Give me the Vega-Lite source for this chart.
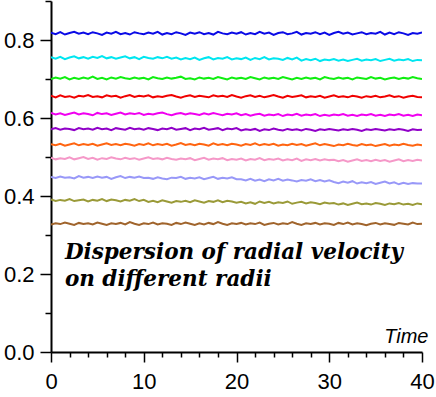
{
  "$schema": "https://vega.github.io/schema/vega-lite/v6.json",
  "autosize": "none",
  "width": 371,
  "height": 351,
  "padding": {"left": 51, "top": 1, "right": 14, "bottom": 45},
  "background": "white",
  "config": {"view": {"stroke": null}, "axis": {"labelOverlap": false, "labelBound": false}},
  "data": {"values": [
{"t":0,"a":0.819,"b":0.756,"c":0.700,"d":0.657,"e":0.613,"f":0.571,"g":0.533,"h":0.498,"i":0.449,"j":0.391,"k":0.327},
{"t":0.5,"a":0.815,"b":0.752,"c":0.704,"d":0.653,"e":0.609,"f":0.574,"g":0.530,"h":0.494,"i":0.446,"j":0.387,"k":0.330},
{"t":1,"a":0.820,"b":0.757,"c":0.701,"d":0.658,"e":0.612,"f":0.570,"g":0.534,"h":0.497,"i":0.450,"j":0.390,"k":0.328},
{"t":1.5,"a":0.814,"b":0.751,"c":0.705,"d":0.654,"e":0.608,"f":0.573,"g":0.529,"h":0.495,"i":0.447,"j":0.388,"k":0.332},
{"t":2,"a":0.818,"b":0.755,"c":0.699,"d":0.656,"e":0.611,"f":0.572,"g":0.532,"h":0.499,"i":0.448,"j":0.392,"k":0.329},
{"t":2.5,"a":0.821,"b":0.758,"c":0.703,"d":0.652,"e":0.614,"f":0.569,"g":0.535,"h":0.494,"i":0.445,"j":0.387,"k":0.326},
{"t":3,"a":0.816,"b":0.753,"c":0.700,"d":0.657,"e":0.609,"f":0.574,"g":0.530,"h":0.497,"i":0.451,"j":0.389,"k":0.331},
{"t":3.5,"a":0.819,"b":0.756,"c":0.704,"d":0.655,"e":0.612,"f":0.571,"g":0.533,"h":0.500,"i":0.447,"j":0.391,"k":0.328},
{"t":4,"a":0.815,"b":0.752,"c":0.701,"d":0.659,"e":0.610,"f":0.573,"g":0.531,"h":0.495,"i":0.449,"j":0.386,"k":0.330},
{"t":4.5,"a":0.820,"b":0.757,"c":0.706,"d":0.654,"e":0.607,"f":0.570,"g":0.534,"h":0.498,"i":0.446,"j":0.390,"k":0.327},
{"t":5,"a":0.817,"b":0.754,"c":0.700,"d":0.656,"e":0.613,"f":0.575,"g":0.529,"h":0.493,"i":0.450,"j":0.388,"k":0.332},
{"t":5.5,"a":0.813,"b":0.759,"c":0.703,"d":0.653,"e":0.610,"f":0.571,"g":0.532,"h":0.497,"i":0.447,"j":0.392,"k":0.329},
{"t":6,"a":0.819,"b":0.753,"c":0.699,"d":0.658,"e":0.612,"f":0.573,"g":0.535,"h":0.495,"i":0.449,"j":0.387,"k":0.326},
{"t":6.5,"a":0.816,"b":0.756,"c":0.704,"d":0.655,"e":0.608,"f":0.569,"g":0.531,"h":0.499,"i":0.444,"j":0.391,"k":0.330},
{"t":7,"a":0.821,"b":0.752,"c":0.701,"d":0.657,"e":0.611,"f":0.574,"g":0.533,"h":0.496,"i":0.448,"j":0.389,"k":0.328},
{"t":7.5,"a":0.815,"b":0.755,"c":0.705,"d":0.652,"e":0.614,"f":0.572,"g":0.530,"h":0.494,"i":0.451,"j":0.386,"k":0.331},
{"t":8,"a":0.818,"b":0.758,"c":0.702,"d":0.656,"e":0.609,"f":0.570,"g":0.534,"h":0.498,"i":0.446,"j":0.390,"k":0.327},
{"t":8.5,"a":0.814,"b":0.753,"c":0.700,"d":0.659,"e":0.612,"f":0.575,"g":0.532,"h":0.495,"i":0.449,"j":0.388,"k":0.333},
{"t":9,"a":0.820,"b":0.756,"c":0.704,"d":0.654,"e":0.610,"f":0.571,"g":0.529,"h":0.497,"i":0.447,"j":0.392,"k":0.329},
{"t":9.5,"a":0.817,"b":0.751,"c":0.701,"d":0.657,"e":0.613,"f":0.573,"g":0.533,"h":0.493,"i":0.450,"j":0.387,"k":0.326},
{"t":10,"a":0.815,"b":0.757,"c":0.703,"d":0.655,"e":0.608,"f":0.570,"g":0.531,"h":0.496,"i":0.446,"j":0.390,"k":0.330},
{"t":10.5,"a":0.819,"b":0.754,"c":0.699,"d":0.658,"e":0.611,"f":0.574,"g":0.535,"h":0.499,"i":0.447,"j":0.385,"k":0.328},
{"t":11,"a":0.816,"b":0.752,"c":0.705,"d":0.653,"e":0.609,"f":0.572,"g":0.530,"h":0.495,"i":0.444,"j":0.388,"k":0.332},
{"t":11.5,"a":0.821,"b":0.756,"c":0.702,"d":0.656,"e":0.612,"f":0.569,"g":0.533,"h":0.497,"i":0.448,"j":0.384,"k":0.327},
{"t":12,"a":0.814,"b":0.753,"c":0.700,"d":0.654,"e":0.614,"f":0.573,"g":0.531,"h":0.494,"i":0.445,"j":0.389,"k":0.330},
{"t":12.5,"a":0.818,"b":0.757,"c":0.704,"d":0.657,"e":0.610,"f":0.571,"g":0.534,"h":0.498,"i":0.443,"j":0.386,"k":0.329},
{"t":13,"a":0.815,"b":0.752,"c":0.701,"d":0.659,"e":0.607,"f":0.575,"g":0.529,"h":0.495,"i":0.447,"j":0.383,"k":0.326},
{"t":13.5,"a":0.820,"b":0.755,"c":0.703,"d":0.655,"e":0.611,"f":0.570,"g":0.532,"h":0.493,"i":0.446,"j":0.387,"k":0.331},
{"t":14,"a":0.817,"b":0.750,"c":0.706,"d":0.652,"e":0.613,"f":0.572,"g":0.536,"h":0.496,"i":0.449,"j":0.385,"k":0.328},
{"t":14.5,"a":0.813,"b":0.754,"c":0.700,"d":0.656,"e":0.609,"f":0.574,"g":0.531,"h":0.494,"i":0.444,"j":0.388,"k":0.332},
{"t":15,"a":0.819,"b":0.751,"c":0.702,"d":0.658,"e":0.612,"f":0.569,"g":0.533,"h":0.497,"i":0.447,"j":0.384,"k":0.329},
{"t":15.5,"a":0.816,"b":0.755,"c":0.699,"d":0.654,"e":0.610,"f":0.573,"g":0.530,"h":0.492,"i":0.445,"j":0.389,"k":0.326},
{"t":16,"a":0.820,"b":0.749,"c":0.704,"d":0.657,"e":0.608,"f":0.571,"g":0.534,"h":0.495,"i":0.448,"j":0.386,"k":0.330},
{"t":16.5,"a":0.815,"b":0.753,"c":0.701,"d":0.655,"e":0.612,"f":0.575,"g":0.532,"h":0.498,"i":0.443,"j":0.383,"k":0.327},
{"t":17,"a":0.818,"b":0.756,"c":0.703,"d":0.653,"e":0.609,"f":0.570,"g":0.529,"h":0.493,"i":0.446,"j":0.387,"k":0.331},
{"t":17.5,"a":0.814,"b":0.750,"c":0.700,"d":0.658,"e":0.613,"f":0.572,"g":0.535,"h":0.496,"i":0.449,"j":0.385,"k":0.328},
{"t":18,"a":0.821,"b":0.754,"c":0.705,"d":0.655,"e":0.610,"f":0.574,"g":0.531,"h":0.494,"i":0.444,"j":0.389,"k":0.333},
{"t":18.5,"a":0.817,"b":0.752,"c":0.702,"d":0.657,"e":0.607,"f":0.569,"g":0.533,"h":0.497,"i":0.447,"j":0.384,"k":0.329},
{"t":19,"a":0.815,"b":0.756,"c":0.699,"d":0.654,"e":0.611,"f":0.573,"g":0.530,"h":0.492,"i":0.445,"j":0.388,"k":0.326},
{"t":19.5,"a":0.819,"b":0.750,"c":0.704,"d":0.659,"e":0.609,"f":0.571,"g":0.534,"h":0.495,"i":0.448,"j":0.386,"k":0.330},
{"t":20,"a":0.816,"b":0.753,"c":0.701,"d":0.655,"e":0.612,"f":0.574,"g":0.532,"h":0.493,"i":0.443,"j":0.383,"k":0.328},
{"t":20.5,"a":0.820,"b":0.751,"c":0.703,"d":0.652,"e":0.607,"f":0.568,"g":0.529,"h":0.496,"i":0.443,"j":0.385,"k":0.331},
{"t":21,"a":0.814,"b":0.755,"c":0.700,"d":0.656,"e":0.610,"f":0.571,"g":0.533,"h":0.491,"i":0.440,"j":0.381,"k":0.327},
{"t":21.5,"a":0.818,"b":0.749,"c":0.705,"d":0.658,"e":0.606,"f":0.569,"g":0.531,"h":0.495,"i":0.444,"j":0.384,"k":0.330},
{"t":22,"a":0.815,"b":0.754,"c":0.702,"d":0.654,"e":0.609,"f":0.572,"g":0.535,"h":0.493,"i":0.439,"j":0.380,"k":0.328},
{"t":22.5,"a":0.821,"b":0.751,"c":0.699,"d":0.657,"e":0.611,"f":0.567,"g":0.530,"h":0.497,"i":0.442,"j":0.386,"k":0.332},
{"t":23,"a":0.816,"b":0.756,"c":0.704,"d":0.653,"e":0.606,"f":0.571,"g":0.533,"h":0.492,"i":0.438,"j":0.382,"k":0.326},
{"t":23.5,"a":0.819,"b":0.750,"c":0.701,"d":0.656,"e":0.609,"f":0.569,"g":0.531,"h":0.495,"i":0.443,"j":0.385,"k":0.329},
{"t":24,"a":0.813,"b":0.753,"c":0.703,"d":0.659,"e":0.607,"f":0.573,"g":0.534,"h":0.493,"i":0.440,"j":0.381,"k":0.331},
{"t":24.5,"a":0.818,"b":0.752,"c":0.700,"d":0.655,"e":0.610,"f":0.570,"g":0.529,"h":0.496,"i":0.444,"j":0.384,"k":0.327},
{"t":25,"a":0.820,"b":0.749,"c":0.705,"d":0.652,"e":0.605,"f":0.568,"g":0.532,"h":0.491,"i":0.439,"j":0.382,"k":0.330},
{"t":25.5,"a":0.815,"b":0.754,"c":0.702,"d":0.657,"e":0.609,"f":0.572,"g":0.530,"h":0.494,"i":0.442,"j":0.386,"k":0.328},
{"t":26,"a":0.817,"b":0.750,"c":0.699,"d":0.654,"e":0.607,"f":0.569,"g":0.534,"h":0.492,"i":0.440,"j":0.380,"k":0.333},
{"t":26.5,"a":0.821,"b":0.755,"c":0.703,"d":0.656,"e":0.611,"f":0.571,"g":0.531,"h":0.496,"i":0.437,"j":0.383,"k":0.329},
{"t":27,"a":0.814,"b":0.747,"c":0.700,"d":0.658,"e":0.606,"f":0.568,"g":0.533,"h":0.490,"i":0.441,"j":0.385,"k":0.326},
{"t":27.5,"a":0.818,"b":0.751,"c":0.704,"d":0.653,"e":0.609,"f":0.572,"g":0.529,"h":0.494,"i":0.439,"j":0.381,"k":0.330},
{"t":28,"a":0.816,"b":0.748,"c":0.701,"d":0.656,"e":0.607,"f":0.570,"g":0.532,"h":0.492,"i":0.443,"j":0.384,"k":0.328},
{"t":28.5,"a":0.820,"b":0.752,"c":0.703,"d":0.654,"e":0.610,"f":0.567,"g":0.535,"h":0.495,"i":0.438,"j":0.382,"k":0.331},
{"t":29,"a":0.815,"b":0.746,"c":0.699,"d":0.657,"e":0.605,"f":0.571,"g":0.530,"h":0.491,"i":0.441,"j":0.379,"k":0.327},
{"t":29.5,"a":0.819,"b":0.750,"c":0.705,"d":0.652,"e":0.608,"f":0.569,"g":0.533,"h":0.494,"i":0.437,"j":0.383,"k":0.330},
{"t":30,"a":0.813,"b":0.748,"c":0.702,"d":0.655,"e":0.606,"f":0.572,"g":0.531,"h":0.492,"i":0.440,"j":0.381,"k":0.329},
{"t":30.5,"a":0.818,"b":0.751,"c":0.700,"d":0.658,"e":0.609,"f":0.570,"g":0.528,"h":0.493,"i":0.436,"j":0.382,"k":0.326},
{"t":31,"a":0.821,"b":0.747,"c":0.704,"d":0.654,"e":0.607,"f":0.568,"g":0.532,"h":0.489,"i":0.433,"j":0.378,"k":0.331},
{"t":31.5,"a":0.816,"b":0.750,"c":0.701,"d":0.656,"e":0.610,"f":0.571,"g":0.530,"h":0.492,"i":0.437,"j":0.381,"k":0.328},
{"t":32,"a":0.819,"b":0.746,"c":0.703,"d":0.653,"e":0.606,"f":0.569,"g":0.534,"h":0.488,"i":0.434,"j":0.377,"k":0.332},
{"t":32.5,"a":0.814,"b":0.749,"c":0.699,"d":0.657,"e":0.608,"f":0.572,"g":0.531,"h":0.491,"i":0.438,"j":0.380,"k":0.327},
{"t":33,"a":0.817,"b":0.752,"c":0.704,"d":0.655,"e":0.605,"f":0.570,"g":0.529,"h":0.494,"i":0.432,"j":0.383,"k":0.330},
{"t":33.5,"a":0.820,"b":0.747,"c":0.702,"d":0.652,"e":0.609,"f":0.567,"g":0.533,"h":0.490,"i":0.435,"j":0.379,"k":0.328},
{"t":34,"a":0.815,"b":0.750,"c":0.700,"d":0.656,"e":0.607,"f":0.571,"g":0.530,"h":0.492,"i":0.433,"j":0.381,"k":0.325},
{"t":34.5,"a":0.818,"b":0.748,"c":0.705,"d":0.654,"e":0.610,"f":0.569,"g":0.532,"h":0.489,"i":0.436,"j":0.378,"k":0.329},
{"t":35,"a":0.816,"b":0.751,"c":0.701,"d":0.657,"e":0.606,"f":0.572,"g":0.528,"h":0.493,"i":0.431,"j":0.382,"k":0.331},
{"t":35.5,"a":0.821,"b":0.746,"c":0.703,"d":0.653,"e":0.608,"f":0.570,"g":0.531,"h":0.490,"i":0.434,"j":0.380,"k":0.327},
{"t":36,"a":0.814,"b":0.749,"c":0.699,"d":0.655,"e":0.605,"f":0.568,"g":0.533,"h":0.492,"i":0.437,"j":0.377,"k":0.330},
{"t":36.5,"a":0.819,"b":0.752,"c":0.702,"d":0.658,"e":0.609,"f":0.571,"g":0.529,"h":0.488,"i":0.432,"j":0.381,"k":0.328},
{"t":37,"a":0.815,"b":0.747,"c":0.704,"d":0.654,"e":0.607,"f":0.569,"g":0.532,"h":0.491,"i":0.435,"j":0.379,"k":0.326},
{"t":37.5,"a":0.820,"b":0.750,"c":0.700,"d":0.656,"e":0.610,"f":0.572,"g":0.530,"h":0.494,"i":0.430,"j":0.382,"k":0.331},
{"t":38,"a":0.817,"b":0.748,"c":0.703,"d":0.652,"e":0.606,"f":0.570,"g":0.534,"h":0.489,"i":0.434,"j":0.378,"k":0.329},
{"t":38.5,"a":0.813,"b":0.751,"c":0.701,"d":0.655,"e":0.608,"f":0.567,"g":0.531,"h":0.492,"i":0.431,"j":0.380,"k":0.327},
{"t":39,"a":0.818,"b":0.746,"c":0.705,"d":0.657,"e":0.605,"f":0.571,"g":0.529,"h":0.490,"i":0.433,"j":0.377,"k":0.332},
{"t":39.5,"a":0.816,"b":0.749,"c":0.702,"d":0.654,"e":0.609,"f":0.569,"g":0.532,"h":0.493,"i":0.432,"j":0.381,"k":0.328},
{"t":40,"a":0.819,"b":0.748,"c":0.700,"d":0.653,"e":0.607,"f":0.570,"g":0.530,"h":0.491,"i":0.432,"j":0.379,"k":0.329}
  ]},
  "layer": [
    {
      "transform": [{"fold": ["a","b","c","d","e","f","g","h","i","j","k"], "as": ["s","v"]}],
      "mark": {"type": "line", "strokeWidth": 2, "clip": true},
      "encoding": {
        "x": {"field": "t", "type": "quantitative",
          "scale": {"domain": [0, 40], "nice": false, "zero": false},
          "axis": {
            "values": [0,2,4,6,8,10,12,14,16,18,20,22,24,26,28,30,32,34,36,38,40],
            "tickCount": 25,
            "labelExpr": "datum.value % 10 == 0 ? datum.label : ''",
            "labelOverlap": false,
            "tickSize": {"condition": {"test": "datum.value % 10 == 0", "value": 10}, "value": 5},
            "grid": false,
            "domainColor": "black", "domainWidth": 2,
            "tickColor": "black", "tickWidth": 1.5,
            "labelFont": "Liberation Sans", "labelFontSize": 22, "labelColor": "black",
            "labelPadding": 9, "labelFlush": false,
            "title": "Time",
            "titleFont": "Liberation Sans", "titleFontSize": 20, "titleFontStyle": "italic", "titleFontWeight": "normal",
            "titleColor": "black",
            "titleAnchor": "end", "titleAlign": "right", "titleBaseline": "alphabetic",
            "titleX": 377, "titleY": -10
          }
        },
        "y": {"field": "v", "type": "quantitative",
          "scale": {"domain": [0, 0.9], "nice": false, "zero": false},
          "axis": {
            "values": [0,0.1,0.2,0.3,0.4,0.5,0.6,0.7,0.8,0.9],
            "tickCount": 12,
            "labelExpr": "round(datum.value*10) % 2 == 0 ? format(datum.value, '.1f') : ''",
            "labelOverlap": false,
            "tickSize": {"condition": {"test": "round(datum.value*10) % 2 == 0", "value": 11}, "value": 6},
            "grid": false,
            "domainColor": "black", "domainWidth": 2,
            "tickColor": "black", "tickWidth": 1.5,
            "labelFont": "Liberation Sans", "labelFontSize": 22, "labelColor": "black",
            "labelPadding": 6, "labelFlush": false,
            "title": null
          }
        },
        "color": {"field": "s", "type": "nominal",
          "scale": {"domain": ["a","b","c","d","e","f","g","h","i","j","k"],
            "range": ["#0a0ae6","#00e6f0","#10ee10","#f00000","#f000f0","#9000c8","#ff6410","#f598c8","#9898f8","#9a9a38","#a0642c"]},
          "legend": null}
      }
    },
    {
      "data": {"values": [{}]},
      "mark": {"type": "text",
        "text": ["Dispersion of radial velocity", "on different radii"],
        "font": "DejaVu Serif", "fontWeight": "bold", "fontStyle": "italic", "fontSize": 21.5,
        "lineHeight": 27, "align": "left", "baseline": "alphabetic", "color": "black"},
      "encoding": {
        "x": {"datum": 1.5, "type": "quantitative"},
        "y": {"datum": 0.238, "type": "quantitative"}
      }
    }
  ]
}
